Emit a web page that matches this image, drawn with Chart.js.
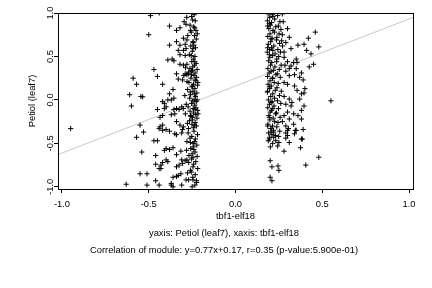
<!DOCTYPE html>
<html>
<head>
<meta charset="utf-8">
<script src="https://cdn.jsdelivr.net/npm/chart.js@4"></script>
<style>
  body { margin: 0; background: #fff; }
  canvas { display: block; }
</style>
</head>
<body>
<canvas id="modChart" width="432" height="288"></canvas>
<script>
const xTicks = [-1, -0.5, 0, 0.5, 1];
const yTicks = [-1, -0.5, 0, 0.5, 1];

const xLabel = "tbf1-elf18";
const yLabel = "Petiol (leaf7)";
const caption1 = "yaxis: Petiol (leaf7), xaxis: tbf1-elf18";
const caption2 = "Correlation of module: y=0.77x+0.17, r=0.35 (p-value:5.900e-01)";

// fitted line, end points
const fitLine = [[-1.05, -0.65], [1.05, 0.97]];

// dense column left of zero
const leftBand = [
  [-0.281,0.95],[-0.253,0.96],[-0.238,0.98],[-0.247,0.92],[-0.232,0.91],[-0.296,0.90],[-0.262,0.86],[-0.241,0.84],
  [-0.228,0.80],[-0.255,0.78],[-0.236,0.74],[-0.226,0.70],[-0.244,0.66],[-0.258,0.62],[-0.231,0.60],[-0.249,0.56],
  [-0.266,0.52],[-0.234,0.50],[-0.243,0.47],
  [-0.252,0.44],[-0.227,0.42],[-0.246,0.38],[-0.263,0.36],[-0.221,0.35],[-0.254,0.33],[-0.233,0.31],[-0.272,0.30],
  [-0.239,0.28],[-0.224,0.26],[-0.257,0.25],[-0.229,0.22],[-0.268,0.20],[-0.242,0.18],[-0.219,0.17],[-0.251,0.15],
  [-0.234,0.13],[-0.276,0.12],[-0.245,0.10],[-0.223,0.08],[-0.259,0.06],[-0.231,0.04],[-0.264,0.02],[-0.238,0.00],
  [-0.226,-0.02],[-0.253,-0.04],[-0.235,-0.06],[-0.273,-0.08],[-0.244,-0.10],[-0.218,-0.12],[-0.262,-0.13],[-0.241,-0.15],
  [-0.229,-0.17],[-0.256,-0.19],[-0.222,-0.21],[-0.247,-0.23],[-0.265,-0.24],[-0.232,-0.26],[-0.251,-0.28],[-0.225,-0.30],
  [-0.243,-0.32],[-0.271,-0.33],
  [-0.288,0.37],[-0.279,0.21],[-0.292,0.05],[-0.284,-0.05],[-0.289,-0.16],[-0.277,-0.27],[-0.298,0.28],[-0.301,-0.10],
  [-0.236,0.40],[-0.248,0.34],[-0.233,0.23],[-0.249,0.16],[-0.237,0.07],[-0.246,-0.01],[-0.233,-0.11],[-0.248,-0.20],
  [-0.237,-0.29],[-0.217,0.20],[-0.221,0.00],[-0.216,-0.16],[-0.261,0.09],[-0.259,-0.18],[-0.254,0.29],[-0.228,-0.09],
  [-0.239,-0.36],[-0.219,-0.40],[-0.252,-0.42],[-0.231,-0.45],[-0.262,-0.44],[-0.223,-0.52],[-0.244,-0.54],[-0.258,-0.56],
  [-0.233,-0.60],[-0.221,-0.65],[-0.253,-0.68],[-0.229,-0.71],[-0.241,-0.74],[-0.218,-0.79],[-0.255,-0.83],[-0.232,-0.86],
  [-0.246,-0.89],[-0.224,-0.95],[-0.273,-0.38],[-0.282,-0.58],[-0.268,-0.64],[-0.277,-0.84],[-0.234,-0.98],[-0.243,-0.50]
];

// scattered points left of zero
const leftSpread = [
  [-0.38,0.85],[-0.34,0.80],[-0.32,0.83],[-0.285,0.87],[-0.26,0.80],[-0.235,0.83],[-0.30,0.71],[-0.275,0.74],
  [-0.22,0.76],[-0.38,0.63],[-0.34,0.67],[-0.32,0.63],[-0.29,0.64],[-0.28,0.69],[-0.245,0.67],[-0.24,0.63],
  [-0.33,0.57],[-0.30,0.57],[-0.285,0.59],[-0.245,0.59],[-0.32,0.52],[-0.29,0.51],[-0.255,0.51],[-0.39,0.46],
  [-0.365,0.47],[-0.355,0.45],[-0.32,0.41],[-0.30,0.40],[-0.28,0.41],[-0.235,0.44],
  [-0.34,0.30],[-0.33,0.24],[-0.305,0.23],[-0.29,0.30],[-0.28,0.29],[-0.27,0.32],[-0.38,0.07],[-0.36,0.12],
  [-0.39,0.00],[-0.37,0.00],[-0.355,0.02],[-0.42,-0.02],[-0.41,-0.04],[-0.45,-0.11],[-0.41,-0.10],[-0.40,-0.08],
  [-0.355,-0.11],[-0.34,-0.10],[-0.325,-0.11],[-0.31,-0.08],[-0.435,-0.20],[-0.42,-0.18],[-0.37,-0.17],[-0.35,-0.16],
  [-0.435,-0.31],[-0.42,-0.29],[-0.34,-0.25],[-0.32,-0.29],[-0.30,-0.31],
  [-0.44,-0.33],[-0.42,-0.35],[-0.40,-0.34],[-0.38,-0.36],[-0.35,-0.39],[-0.34,-0.40],[-0.31,-0.38],[-0.305,-0.34],
  [-0.28,-0.48],[-0.26,-0.49],[-0.235,-0.48],[-0.41,-0.58],[-0.40,-0.56],[-0.38,-0.57],[-0.36,-0.55],[-0.42,-0.72],
  [-0.40,-0.69],[-0.39,-0.71],[-0.43,-0.79],[-0.34,-0.63],[-0.315,-0.59],[-0.31,-0.69],[-0.29,-0.70],[-0.28,-0.69],
  [-0.27,-0.72],[-0.25,-0.62],[-0.24,-0.57],[-0.245,-0.66],[-0.34,-0.77],[-0.325,-0.75],[-0.305,-0.73],[-0.36,-0.89],
  [-0.34,-0.88],[-0.33,-0.87],[-0.315,-0.85],[-0.285,-0.92],[-0.27,-0.92],[-0.245,-0.92],[-0.225,-0.93],[-0.26,-0.81],
  [-0.245,-0.77],[-0.37,-0.96],[-0.36,-1.0],[-0.31,-0.98],[-0.25,-1.0],
  [-0.49,0.97],[-0.44,1.0],[-0.50,0.75],[-0.59,0.25],[-0.57,0.18],[-0.61,0.06],[-0.545,0.04],[-0.535,0.035],
  [-0.60,-0.07],[-0.47,0.35],[-0.45,0.27],[-0.42,0.18],[-0.55,-0.29],[-0.53,-0.37],[-0.57,-0.43],[-0.47,-0.47],
  [-0.45,-0.47],[-0.54,-0.60],[-0.46,-0.64],[-0.46,-0.74],[-0.44,-0.79],[-0.43,-0.75],[-0.55,-0.85],[-0.51,-0.85],
  [-0.63,-0.97],[-0.51,-0.98],[-0.46,-0.93],[-0.44,-0.98],[-0.37,-0.98]
];

// dense column right of zero
const rightBand = [
  [0.188,0.99],[0.213,0.98],[0.197,0.95],[0.226,0.93],[0.184,0.91],[0.208,0.89],[0.201,0.86],[0.232,0.84],[0.192,0.82],
  [0.216,0.80],[0.224,0.78],[0.199,0.76],[0.186,0.73],[0.211,0.71],[0.236,0.69],[0.203,0.67],[0.189,0.64],[0.221,0.62],
  [0.207,0.60],[0.196,0.58],[0.183,0.55],[0.228,0.53],[0.214,0.51],[0.198,0.49],[0.238,0.47],[0.191,0.45],[0.209,0.43],
  [0.202,0.40],[0.227,0.38],[0.187,0.36],[0.218,0.34],[0.194,0.31],[0.233,0.29],[0.185,0.27],[0.212,0.25],[0.199,0.22],
  [0.223,0.20],[0.188,0.18],[0.206,0.16],[0.197,0.13],[0.229,0.11],[0.184,0.09],[0.215,0.07],[0.203,0.04],[0.225,0.02],
  [0.190,0.00],[0.211,-0.02],[0.196,-0.05],[0.222,-0.07],[0.186,-0.09],[0.208,-0.12],[0.200,-0.14],[0.231,-0.16],[0.192,-0.18],
  [0.217,-0.21],[0.198,-0.23],[0.226,-0.25],[0.187,-0.28],[0.213,-0.30],[0.204,-0.33],[0.219,-0.35],[0.191,-0.38],[0.210,-0.40],
  [0.197,-0.43],[0.189,-0.47],[0.214,-0.50],[0.201,-0.54],
  [0.243,0.97],[0.256,0.90],[0.247,0.85],[0.262,0.81],[0.251,0.76],[0.239,0.72],[0.266,0.68],[0.254,0.65],[0.271,0.62],
  [0.244,0.58],[0.259,0.55],[0.249,0.50],[0.237,0.44],[0.263,0.40],[0.252,0.35],[0.241,0.30],[0.258,0.26],[0.246,0.19],
  [0.239,0.14],[0.264,0.10],[0.253,0.05],[0.242,-0.01],[0.261,-0.04],[0.248,-0.10],[0.236,-0.15],[0.257,-0.20],[0.245,-0.26],
  [0.238,-0.31],[0.255,-0.36],[0.249,-0.42],[0.232,-0.47],[0.243,-0.53],
  [0.195,0.88],[0.205,0.70],[0.195,0.52],[0.205,0.33],[0.195,0.15],[0.205,-0.03],[0.195,-0.20],[0.205,-0.37],
  [0.215,0.96],[0.215,0.57],[0.215,0.25],[0.215,-0.10],[0.185,0.60],[0.185,0.10],[0.185,-0.30],[0.185,0.85]
];

// scattered points right of zero
const rightSpread = [
  [0.46,0.78],[0.42,0.71],[0.48,0.61],[0.395,0.64],[0.36,0.63],[0.41,0.57],[0.435,0.53],[0.45,0.41],[0.425,0.38],
  [0.35,0.47],[0.355,0.43],[0.335,0.43],[0.32,0.39],[0.35,0.36],[0.31,0.36],[0.38,0.31],[0.37,0.26],[0.39,0.23],
  [0.31,0.28],[0.34,0.29],[0.40,0.13],[0.395,0.08],[0.38,0.07],[0.34,0.16],[0.355,0.11],
  [0.37,0.01],[0.395,-0.07],[0.38,-0.12],[0.31,0.01],[0.325,-0.03],[0.32,-0.07],[0.335,-0.16],[0.36,-0.18],[0.38,-0.22],
  [0.30,-0.14],[0.31,-0.22],[0.335,-0.28],[0.35,-0.35],[0.39,-0.34],[0.38,-0.45],[0.29,-0.30],[0.30,-0.35],[0.30,-0.41],
  [0.205,-0.33],[0.22,-0.37],[0.23,-0.41],[0.22,-0.43],[0.195,-0.45],[0.29,-0.38],[0.29,-0.44],[0.305,-0.33],
  [0.345,-0.35],[0.34,-0.39],[0.31,-0.49],[0.25,-0.49],[0.385,-0.45],[0.375,-0.55],[0.28,-0.59],[0.48,-0.66],
  [0.405,-0.75],[0.20,-0.70],[0.21,-0.77],[0.245,-0.76],[0.25,-0.81],[0.20,-0.89],[0.21,-0.93],
  [0.27,0.99],[0.275,0.90],[0.30,0.82],[0.31,0.72],[0.29,0.66],[0.32,0.59],[0.28,0.49],[0.30,0.44],[0.285,0.40],
  [0.29,0.33],[0.28,0.20],[0.30,0.18],[0.28,0.04],[0.29,-0.05],[0.28,-0.18],[0.27,-0.25],[0.28,0.55],[0.27,0.75]
];

const outliers = [[-0.95,-0.33],[0.55,-0.01]];

const txtFont = { family: "'Liberation Sans', Arial, sans-serif", size: 9.4 };
const toXY = (p) => ({ x: p[0], y: p[1] });
const allPoints = [].concat(leftBand, leftSpread, rightBand, rightSpread, outliers).map(toXY);

// frame round the plotting region
const boxPlugin = {
  id: "boxPlugin",
  afterDatasetsDraw(chart) {
    const { ctx, chartArea: a } = chart;
    ctx.save();
    ctx.strokeStyle = "#000";
    ctx.lineWidth = 1;
    ctx.strokeRect(a.left + 0.5, a.top + 0.5, a.right - a.left, a.bottom - a.top);
    ctx.restore();
  },
};

// two caption lines under the axis title
const captionPlugin = {
  id: "captionPlugin",
  afterDraw(chart) {
    const ctx = chart.ctx;
    ctx.save();
    ctx.fillStyle = "#000";
    ctx.font = txtFont.size + "px " + txtFont.family;
    ctx.textAlign = "center";
    ctx.textBaseline = "middle";
    ctx.fillText(caption1, 224, 233);
    ctx.fillText(caption2, 224, 250);
    ctx.restore();
  },
};

const ctx = document.getElementById("modChart").getContext("2d");

new Chart(ctx, {
  type: "scatter",
  data: {
    datasets: [
      {
        label: "genes",
        data: allPoints,
        pointStyle: "cross",
        pointRadius: 2.6,
        borderColor: "#000",
        backgroundColor: "#000",
        borderWidth: 1,
      },
      {
        type: "line",
        label: "fit",
        data: fitLine.map(toXY),
        borderColor: "#c8c8c8",
        borderWidth: 1,
        pointRadius: 0,
        fill: false,
      },
    ],
  },
  options: {
    responsive: false,
    animation: false,
    events: [],
    layout: { padding: { left: 0, right: 19, top: 13, bottom: 66 } },
    plugins: {
      legend: { display: false },
      tooltip: { enabled: false },
    },
    scales: {
      x: {
        type: "linear",
        min: -1.023,
        max: 1.023,
        afterBuildTicks: (s) => {
          s.ticks = xTicks.map((v) => ({ value: v }));
        },
        afterFit: (s) => {
          s.height = 33;
        },
        ticks: {
          callback: (v) => Number(v).toFixed(1),
          color: "#000",
          font: txtFont,
          padding: 6,
          maxRotation: 0,
        },
        grid: { drawOnChartArea: false, drawTicks: true, tickLength: 4, color: "#000" },
        border: { display: false },
        title: { display: true, text: xLabel, color: "#000", font: txtFont, padding: { top: 0, bottom: 0 } },
      },
      y: {
        type: "linear",
        min: -1.025,
        max: 1.0,
        afterBuildTicks: (s) => {
          s.ticks = yTicks.map((v) => ({ value: v }));
        },
        afterFit: (s) => {
          s.width = 58;
        },
        ticks: {
          callback: (v) => Number(v).toFixed(1),
          color: "#000",
          font: txtFont,
          padding: -4,
          minRotation: 90,
          maxRotation: 90,
          crossAlign: "center",
        },
        grid: { drawOnChartArea: false, drawTicks: true, tickLength: 4, color: "#000" },
        border: { display: false },
        title: { display: true, text: yLabel, color: "#000", font: txtFont, padding: { top: 27, bottom: 0 } },
      },
    },
  },
  plugins: [boxPlugin, captionPlugin],
});
</script>
</body>
</html>
